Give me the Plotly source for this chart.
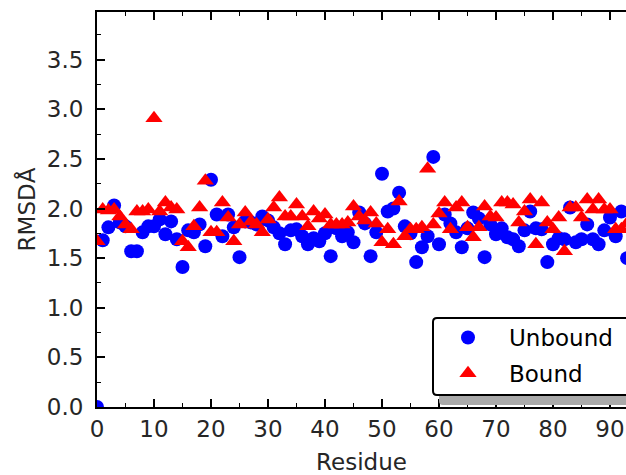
import plotly.graph_objects as go

residues = list(range(94))

unbound = [0.00, 1.68, 1.81, 2.03, 1.86, 1.82, 1.57, 1.57, 1.76, 1.82,
           1.82, 1.89, 1.74, 1.87, 1.69, 1.41, 1.78, 1.76, 1.84, 1.62,
           2.29, 1.94, 1.72, 1.94, 1.81, 1.51, 1.87, 1.86, 1.84, 1.92,
           1.88, 1.81, 1.75, 1.64, 1.78, 1.79, 1.72, 1.64, 1.70, 1.67,
           1.75, 1.52, 1.80, 1.72, 1.76, 1.66, 1.96, 1.85, 1.52, 1.76,
           2.35, 1.97, 2.00, 2.16, 1.82, 1.75, 1.46, 1.61, 1.72, 2.52,
           1.64, 1.94, 1.85, 1.76, 1.61, 1.80, 1.96, 1.90, 1.51, 1.84,
           1.74, 1.80, 1.71, 1.69, 1.62, 1.78, 1.97, 1.80, 1.79, 1.46,
           1.64, 1.70, 1.69, 2.01, 1.66, 1.69, 1.84, 1.69, 1.64, 1.78,
           1.91, 1.72, 1.97, 1.50]

bound = [1.67, 1.99, 1.98, 1.99, 1.92, 1.84, 1.79, 1.97, 1.97, 1.99,
         2.91, 1.97, 2.06, 2.01, 1.99, 1.67, 1.61, 1.82, 2.01, 2.28,
         1.76, 1.76, 2.06, 1.91, 1.67, 1.84, 1.96, 1.87, 1.84, 1.76,
         1.89, 2.01, 2.11, 1.92, 1.92, 2.04, 1.92, 1.82, 1.97, 1.90,
         1.94, 1.84, 1.84, 1.84, 1.86, 2.02, 1.92, 1.88, 1.96, 1.85,
         1.66, 1.79, 1.64, 2.07, 1.72, 1.79, 1.79, 1.81, 2.40, 1.84,
         1.95, 2.06, 1.79, 2.01, 2.06, 1.81, 1.71, 1.81, 2.02, 1.92,
         1.91, 2.06, 2.06, 2.04, 1.86, 1.97, 2.09, 1.64, 2.06, 1.86,
         1.79, 1.91, 1.57, 2.01, 2.01, 1.91, 2.09, 1.99, 2.09, 1.99,
         1.99, 1.79, 1.79, 1.85]

FONT = "DejaVu Sans"
FS = 23

fig = go.Figure()
fig.add_trace(go.Scatter(
    x=residues, y=unbound, mode="markers", name="Unbound",
    legendgroup="u",
    marker=dict(symbol="circle", size=14, color="#0000ff", line=dict(width=0)),
))
fig.add_trace(go.Scatter(
    x=residues, y=bound, mode="markers", name="Bound",
    legendgroup="b",
    marker=dict(symbol="triangle-up", size=15, color="#ff0000", line=dict(width=0)),
))

W, H = 626, 475
L, T, B, R = 97, 12, 68, 0
pw, ph = W - L - R, H - T - B

def px(xp):
    return (xp - L) / pw

def py(yp):
    return (H - B - yp) / ph

def rounded(x0, y0, x1, y1, r):
    X0, X1 = px(x0), px(x1)
    Y0, Y1 = py(y1), py(y0)
    rx, ry = r / pw, r / ph
    return (f"M {X0+rx},{Y1} L {X1-rx},{Y1} Q {X1},{Y1} {X1},{Y1-ry} "
            f"L {X1},{Y0+ry} Q {X1},{Y0} {X1-rx},{Y0} L {X0+rx},{Y0} "
            f"Q {X0},{Y0} {X0},{Y0+ry} L {X0},{Y1-ry} Q {X0},{Y1} {X0+rx},{Y1} Z")

fig.add_shape(type="path", xref="paper", yref="paper",
              path=rounded(439, 326, 660, 405, 4),
              fillcolor="#a9a9a9", line=dict(width=0), layer="above")
fig.add_shape(type="path", xref="paper", yref="paper",
              path=rounded(433, 318, 654, 395, 4),
              fillcolor="white", line=dict(color="black", width=2), layer="above")

fig.update_layout(
    width=W, height=H,
    margin=dict(l=L, r=R, t=T, b=B),
    paper_bgcolor="white", plot_bgcolor="white",
    font=dict(family=FONT, size=FS, color="#262626"),
    showlegend=True,
    legend=dict(
        x=px(427), y=py(316), xanchor="left", yanchor="top",
        bgcolor="rgba(0,0,0,0)", borderwidth=0,
        font=dict(family=FONT, size=FS, color="black"),
        itemwidth=72, tracegroupgap=3,
    ),
    xaxis=dict(
        range=[0, pw / 5.7],
        tickmode="linear", tick0=0, dtick=10,
        ticks="inside", ticklen=8, tickwidth=1.5, tickcolor="black",
        minor=dict(ticks="inside", ticklen=4, tickwidth=1.2, dtick=5, tickcolor="black"),
        showline=True, linewidth=2, linecolor="black", mirror="ticks",
        showgrid=False, zeroline=False,
        ticklabelstandoff=0,
        title=dict(text="Residue", standoff=14, font=dict(size=FS)),
        tickfont=dict(size=FS, color="#262626"),
    ),
    yaxis=dict(
        range=[0, 3.98],
        tickmode="linear", tick0=0, dtick=0.5, tickformat=".1f",
        ticks="inside", ticklen=8, tickwidth=1.5, tickcolor="black",
        minor=dict(ticks="inside", ticklen=4, tickwidth=1.2, dtick=0.25, tickcolor="black"),
        showline=True, linewidth=2, linecolor="black", mirror=False,
        showgrid=False, zeroline=False,
        ticklabelstandoff=7,
        title=dict(text="RMSDÅ", standoff=5, font=dict(size=FS)),
        tickfont=dict(size=FS, color="#262626"),
    ),
)

fig.write_html("out.html")
